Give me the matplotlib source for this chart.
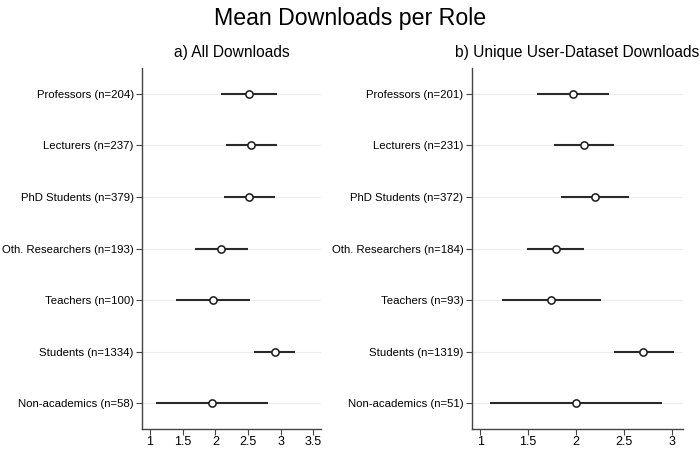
import matplotlib.pyplot as plt
import numpy as np

plt.rcParams['font.family'] = ['Liberation Sans', 'DejaVu Sans']

roles_a = ["Professors (n=204)", "Lecturers (n=237)", "PhD Students (n=379)",
           "Oth. Researchers (n=193)", "Teachers (n=100)", "Students (n=1334)",
           "Non-academics (n=58)"]
mean_a = [2.52, 2.55, 2.52, 2.09, 1.96, 2.91, 1.95]
low_a = [2.08, 2.16, 2.13, 1.69, 1.40, 2.59, 1.10]
high_a = [2.95, 2.94, 2.91, 2.50, 2.53, 3.22, 2.80]

roles_b = ["Professors (n=201)", "Lecturers (n=231)", "PhD Students (n=372)",
           "Oth. Researchers (n=184)", "Teachers (n=93)", "Students (n=1319)",
           "Non-academics (n=51)"]
mean_b = [1.97, 2.08, 2.20, 1.79, 1.74, 2.70, 2.00]
low_b = [1.59, 1.77, 1.84, 1.49, 1.23, 2.39, 1.10]
high_b = [2.34, 2.39, 2.55, 2.08, 2.26, 3.02, 2.89]

xticks_a = [1, 1.5, 2, 2.5, 3, 3.5]
xticks_b = [1, 1.5, 2, 2.5, 3]


def draw_panel(ax, roles, mean, low, high, title, xlim, xticks):
    y = np.arange(len(roles))
    for yi in y:
        ax.axhline(yi, color="#ececec", lw=0.8, zorder=0)
    ax.hlines(y, low, high, color="#2a2a2a", lw=1.5, zorder=2)
    ax.plot(mean, y, "o", mfc="white", mec="#1a1a1a", ms=5.2, mew=1.1, zorder=3)
    ax.set_yticks(y)
    ax.set_yticklabels(roles, fontsize=8.2)
    ax.set_ylim(len(roles) - 0.5, -0.5)
    ax.set_xlim(*xlim)
    ax.set_xticks(xticks)
    ax.set_xticklabels([f"{t:g}" for t in xticks], fontsize=9)
    ax.set_title(title, fontsize=11.2, pad=8)
    for s in ["top", "right"]:
        ax.spines[s].set_visible(False)
    for s in ["left", "bottom"]:
        ax.spines[s].set_color("#444444")
        ax.spines[s].set_linewidth(1.0)
    ax.tick_params(axis="both", direction="out", length=4, color="#444444", pad=2)
    ax.tick_params(axis="x", pad=1)


fig = plt.figure(figsize=(7, 4.5), dpi=100)
ax1 = fig.add_axes([0.203, 0.046, 0.256, 0.803])
ax2 = fig.add_axes([0.674, 0.046, 0.301, 0.803])

draw_panel(ax1, roles_a, mean_a, low_a, high_a, "a) All Downloads", (0.88, 3.62), xticks_a)
draw_panel(ax2, roles_b, mean_b, low_b, high_b, "b) Unique User-Dataset Downloads", (0.914, 3.107), xticks_b)

fig.suptitle("Mean Downloads per Role", fontsize=16.7, x=0.5, y=0.985)

fig.savefig("out.png", dpi=100)
